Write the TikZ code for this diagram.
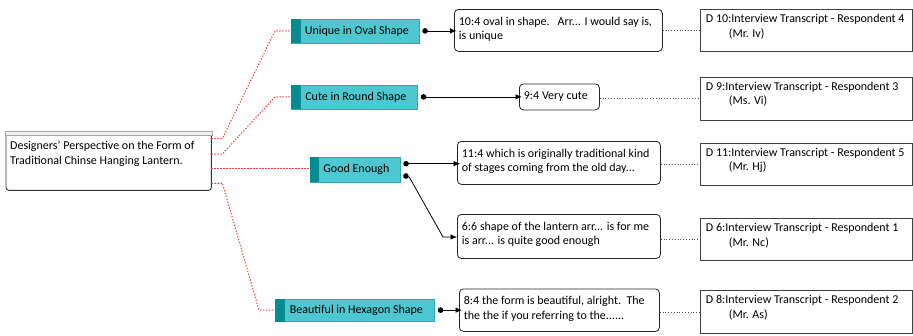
\documentclass[tikz,border=0pt]{standalone}
\usepackage{fontspec}
\setmainfont{Carlito}
\usetikzlibrary{arrows.meta,calc}
\definecolor{catfill}{HTML}{4DC8D0}
\definecolor{catstrip}{HTML}{078A90}
\definecolor{catline}{HTML}{2FAAB2}
\definecolor{reddot}{HTML}{FF3A3A}
\newcommand{\mybox}[4]{\parbox[t][#2pt][t]{#1pt}{\vspace*{#3pt}\strut #4}}
\begin{document}
\begin{tikzpicture}[x=1pt,y=-1pt,
  every node/.style={font=\fontsize{12}{14.5}\selectfont, text=black},
  rootbox/.style={anchor=north west, inner xsep=4pt, inner ysep=0pt},
  qbox/.style={draw=black!85, line width=0.8pt, rounded corners=4pt, fill=white, anchor=north west, inner xsep=4.5pt, inner ysep=0pt},
  dbox/.style={draw=black!75, line width=0.9pt, fill=white, anchor=north west, inner xsep=5.5pt, inner ysep=0pt},
  cat/.style={draw=catline, line width=0.8pt, fill=catfill, anchor=north west, inner sep=0pt},
  link/.style={line width=0.8pt, {Circle[length=5.5pt]}-{Latex[length=6.5pt,width=5.5pt]}},
  tie/.style={draw=black!70, line width=0.8pt, dash pattern=on 1pt off 1.8pt},
  redtie/.style={draw=reddot, line width=1pt, dash pattern=on 1.4pt off 1.6pt}
]
\fill[white] (0,0) rectangle (913,335);
\useasboundingbox (0,0) rectangle (913,335);

% root
\node[rootbox] (root) at (6,131) {\mybox{197}{59}{8.5}{\mbox{Designers' Perspective on the Form of}\\\mbox{Traditional Chinse Hanging Lantern.}}};
\draw[black!80, line width=0.9pt, rounded corners=3pt] ([yshift=-4pt]root.north west) -- (root.south west) -- (root.south east) -- ([yshift=-4pt]root.north east);
\draw[draw=gray!70, fill=gray!12, line width=0.6pt] ([xshift=-1pt]root.north west) rectangle ([xshift=1pt,yshift=-4pt]root.north east);

% categories
\node[cat, minimum width=128pt, minimum height=24pt] (u) at (291,18.5) {\hspace*{3pt}Unique in Oval Shape};
\node[cat, minimum width=126pt, minimum height=24pt] (c) at (291,84.5) {\hspace*{3pt}Cute in Round Shape};
\node[cat, minimum width=90pt, minimum height=24.5pt] (g) at (309.5,157) {\hspace*{3pt}Good Enough};
\node[cat, minimum width=159pt, minimum height=22.5pt] (b) at (275,298.5) {\hspace*{3pt}Beautiful in Hexagon Shape};
\fill[catstrip] (u.north west) rectangle ([xshift=10pt]u.south west);
\fill[catstrip] (c.north west) rectangle ([xshift=10pt]c.south west);
\fill[catstrip] (g.north west) rectangle ([xshift=9.5pt]g.south west);
\fill[catstrip] (b.north west) rectangle ([xshift=10pt]b.south west);

% quotes
\node[qbox] (q10) at (454,9) {\mybox{199}{42}{5.8}{\mbox{10:4 oval in shape.\ \ \ Arr... I would say is,}\\\mbox{is unique}}};
\node[qbox] (q9) at (519,83.5) {\mybox{71}{26}{5.5}{\mbox{9:4 Very cute}}};
\node[qbox] (q11) at (457,141) {\mybox{194}{43}{5.8}{\mbox{11:4 which is originally traditional kind}\\\mbox{of stages coming from the old day...}}};
\node[qbox] (q6) at (457,214) {\mybox{194}{44}{5.8}{\mbox{6:6 shape of the lantern arr... is for me}\\\mbox{is arr... is quite good enough}}};
\node[qbox] (q8) at (459,288.5) {\mybox{191}{42.5}{5.8}{\mbox{8:4 the form is beautiful, alright.\ \ The}\\\mbox{the the if you referring to the......}}};

% documents
\node[dbox] (d10) at (700,9) {\mybox{201}{42}{3}{\mbox{D 10:Interview Transcript - Respondent 4}\\\hspace*{23pt}\mbox{(Mr. Iv)}}};
\node[dbox] (d9) at (700,76.5) {\mybox{201}{43.5}{3}{\mbox{D 9:Interview Transcript - Respondent 3}\\\hspace*{23pt}\mbox{(Ms. Vi)}}};
\node[dbox] (d11) at (700,142.5) {\mybox{201}{42}{3}{\mbox{D 11:Interview Transcript - Respondent 5}\\\hspace*{23pt}\mbox{(Mr. Hj)}}};
\node[dbox] (d6) at (700,218) {\mybox{201}{42}{3}{\mbox{D 6:Interview Transcript - Respondent 1}\\\hspace*{23pt}\mbox{(Mr. Nc)}}};
\node[dbox] (d8) at (700,290) {\mybox{201}{43}{3}{\mbox{D 8:Interview Transcript - Respondent 2}\\\hspace*{23pt}\mbox{(Mr. As)}}};

% red dotted links root -> categories
\coordinate (r1) at ($(root.north east)+(0,7.5)$);
\coordinate (r2) at ($(root.north east)+(0,23)$);
\coordinate (r3) at ($(root.north east)+(0,37.5)$);
\coordinate (r4) at ($(root.north east)+(0,52.3)$);
\draw[redtie] (r1) -- ++(11,0) -- ([xshift=-16pt]u.west) -- (u.west);
\draw[redtie] (r2) -- ++(11,0) -- ([xshift=-16pt]c.west) -- (c.west);
\draw[redtie] (r3) -- (r3 -| g.west);
\draw[redtie] (r4) -- ++(11,0) -- ([xshift=-16pt]b.west) -- (b.west);

% category -> quote
\draw[link] ([xshift=2.5pt]u.east) -- ([xshift=2.5pt]u.east -| q10.west);
\draw[link] ([xshift=3pt]c.east) -- ([xshift=3pt]c.east -| q9.west);
\draw[link] ([xshift=3pt,yshift=6pt]g.east) -- ([xshift=3pt,yshift=6pt]g.east -| q11.west);
\coordinate (gbend) at (443,237);
\draw[link] ([xshift=3pt,yshift=-5.5pt]g.east) -- ++(6,2) -- (gbend) -- (gbend -| q6.west);
\draw[link] ([xshift=3pt]b.east) -- ([xshift=3pt]b.east -| q8.west);

% quote -> document
\draw[tie] (q10.east |- d10.west) -- (d10.west);
\draw[tie] (q9.east |- d9.west) -- (d9.west);
\draw[tie] (q11.east |- d11.west) -- (d11.west);
\draw[tie] (q6.east |- d6.west) -- (d6.west);
\draw[tie] (q8.east |- d8.west) -- (d8.west);
\end{tikzpicture}
\end{document}
